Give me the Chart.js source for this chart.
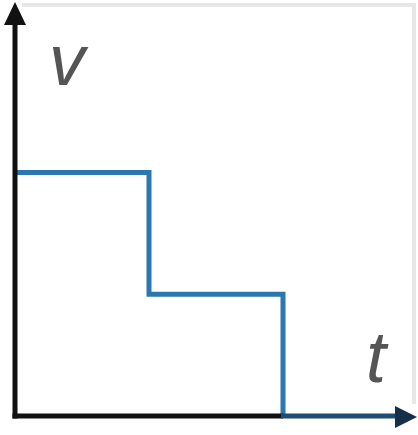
<!DOCTYPE html>
<html>
<head>
<meta charset="utf-8">
<script src="https://cdn.jsdelivr.net/npm/chart.js@4"></script>
<style>
  html, body { margin: 0; padding: 0; background: #fff; }
  #wrap { width: 418px; height: 435px; position: relative; }
</style>
</head>
<body>
<div id="wrap"><canvas id="vt"></canvas></div>
<script>
// step chart: speed v against time t
const tValues = [0, 1, 2];
const vValues = [2, 1, 0];
const tMax = 3;
const vMax = 3.4;
const axisLabels = ['v', 't'];

const lineBlue = '#2b77b0';

// axes with arrow heads, the frame and the two italic letters
const sketchAxes = {
    id: 'sketchAxes',
    beforeDraw(chart) {
        const ctx = chart.ctx;
        ctx.save();
        ctx.strokeStyle = '#e7e7e7';
        ctx.lineWidth = 4;
        ctx.beginPath();
        ctx.moveTo(22, 5);
        ctx.lineTo(414, 5);
        ctx.lineTo(414, 404);
        ctx.stroke();
        ctx.restore();
    },
    afterDatasetsDraw(chart) {
        const ctx = chart.ctx;
        const x = chart.scales.x, y = chart.scales.y;
        const x0 = x.getPixelForValue(0), y0 = y.getPixelForValue(0);
        const xEnd = x.getPixelForValue(tValues[tValues.length - 1]);
        const xTip = x.getPixelForValue(tMax);
        const yTip = y.getPixelForValue(vMax);
        ctx.save();
        ctx.lineWidth = 5;
        ctx.lineCap = 'butt';
        // vertical axis
        ctx.strokeStyle = '#111';
        ctx.beginPath();
        ctx.moveTo(x0, y0 + 2.5);
        ctx.lineTo(x0, yTip + 20);
        ctx.stroke();
        ctx.fillStyle = '#111';
        ctx.beginPath();
        ctx.moveTo(x0, yTip);
        ctx.lineTo(x0 - 11, yTip + 23);
        ctx.lineTo(x0 + 11, yTip + 23);
        ctx.closePath();
        ctx.fill();
        // horizontal axis
        ctx.beginPath();
        ctx.moveTo(x0 - 2.5, y0);
        ctx.lineTo(xEnd, y0);
        ctx.stroke();
        ctx.strokeStyle = '#1e4d74';
        ctx.beginPath();
        ctx.moveTo(xEnd - 2, y0);
        ctx.lineTo(xTip - 18, y0);
        ctx.stroke();
        ctx.fillStyle = '#142f47';
        ctx.beginPath();
        ctx.moveTo(xTip, y0 + 1);
        ctx.lineTo(xTip - 22, y0 - 10);
        ctx.lineTo(xTip - 22, y0 + 12);
        ctx.closePath();
        ctx.fill();
        // letters
        ctx.fillStyle = '#555';
        ctx.font = 'italic 72px "Liberation Sans", Arial, sans-serif';
        ctx.textBaseline = 'alphabetic';
        ctx.fillText(axisLabels[0], 49, 85);
        ctx.fillText(axisLabels[1], 366, 382);
        ctx.restore();
    }
};

new Chart(document.getElementById('vt').getContext('2d'), {
    type: 'line',
    data: {
        datasets: [{
            label: 'v',
            data: tValues.map((t, i) => ({ x: t, y: vValues[i] })),
            borderColor: lineBlue,
            borderWidth: 5,
            stepped: 'before',
            pointRadius: 0,
            fill: false
        }]
    },
    options: {
        responsive: true,
        maintainAspectRatio: false,
        animation: false,
        layout: { padding: { left: 15, right: 1, top: 2, bottom: 19 } },
        plugins: { legend: { display: false }, tooltip: { enabled: false } },
        scales: {
            x: { type: 'linear', min: 0, max: tMax, display: false },
            y: { type: 'linear', min: 0, max: vMax, display: false }
        }
    },
    plugins: [sketchAxes]
});
</script>
</body>
</html>
